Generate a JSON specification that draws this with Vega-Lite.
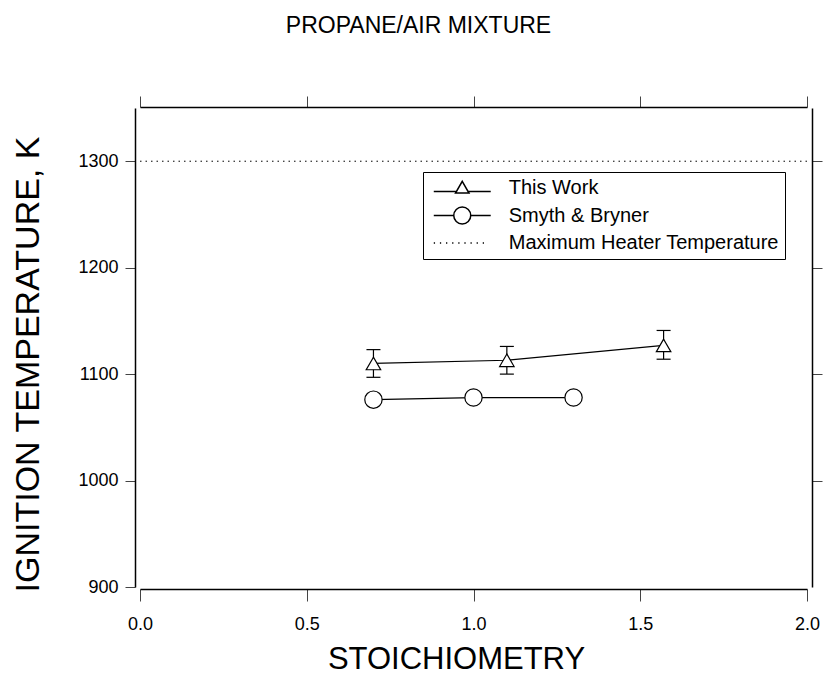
{
  "$schema": "https://vega.github.io/schema/vega-lite/v6.json",
  "width": 667,
  "height": 479,
  "autosize": "none",
  "padding": {"left": 140, "top": 108, "right": 17, "bottom": 89},
  "config": {
    "font": "Liberation Sans",
    "view": {"stroke": null},
    "axis": {
      "grid": false,
      "domainColor": "#000000",
      "domainWidth": 1.5,
      "tickColor": "#444444",
      "tickWidth": 1,
      "labelColor": "#000000",
      "labelFontSize": 18,
      "labelFont": "Liberation Sans",
      "titleFont": "Liberation Sans",
      "titleFontSize": 32,
      "titleFontWeight": "normal",
      "titleColor": "#000000"
    }
  },
  "title": {
    "text": "PROPANE/AIR MIXTURE",
    "fontSize": 23,
    "fontWeight": "normal",
    "font": "Liberation Sans",
    "color": "#000000",
    "anchor": "middle",
    "frame": "group",
    "dx": -55,
    "offset": 58
  },
  "data": {
    "values": [
      {"series": "This Work", "x": 0.7, "temp": 1110, "lo": 1097, "hi": 1123},
      {"series": "This Work", "x": 1.1, "temp": 1113, "lo": 1100, "hi": 1126},
      {"series": "This Work", "x": 1.57, "temp": 1127, "lo": 1114, "hi": 1141},
      {"series": "Smyth & Bryner", "x": 0.7, "temp": 1076},
      {"series": "Smyth & Bryner", "x": 1.0, "temp": 1078},
      {"series": "Smyth & Bryner", "x": 1.3, "temp": 1078},
      {"series": "Maximum Heater Temperature", "temp": 1300}
    ]
  },
  "resolve": {"axis": {"x": "independent", "y": "independent"}},
  "layer": [
    {
      "transform": [{"filter": "datum.series === 'Maximum Heater Temperature'"}],
      "mark": {"type": "rule", "color": "#000000", "strokeWidth": 1, "strokeDash": [1.5, 4]},
      "encoding": {
        "y": {"field": "temp", "type": "quantitative", "scale": {"domain": [900, 1350], "nice": false, "zero": false}, "axis": null}
      }
    },
    {
      "transform": [{"filter": "datum.series !== 'Maximum Heater Temperature'"}],
      "mark": {"type": "line", "color": "#000000", "strokeWidth": 1.2},
      "encoding": {
        "x": {"field": "x", "type": "quantitative", "scale": {"domain": [0, 2], "nice": false, "zero": false},
          "axis": {"orient": "bottom", "values": [0, 0.5, 1, 1.5, 2], "format": ".1f", "tickSize": 12, "offset": 2, "labelPadding": 14, "labelFlush": false, "title": "STOICHIOMETRY", "titleFontSize": 31, "titlePadding": 11, "titleX": 316}},
        "y": {"field": "temp", "type": "quantitative", "scale": {"domain": [900, 1350], "nice": false, "zero": false},
          "axis": {"orient": "left", "values": [900, 1000, 1100, 1200, 1300], "format": "d", "tickSize": 10, "offset": 5, "labelPadding": 7, "labelFlush": false, "title": "IGNITION TEMPERATURE, K", "titleFontSize": 34, "titlePadding": 32, "titleY": 256}},
        "detail": {"field": "series"}
      }
    },
    {
      "transform": [{"filter": "datum.series === 'This Work'"}],
      "mark": {"type": "rule", "color": "#000000", "strokeWidth": 1.2},
      "encoding": {
        "x": {"field": "x", "type": "quantitative", "axis": null},
        "y": {"field": "lo", "type": "quantitative", "axis": null},
        "y2": {"field": "hi"}
      }
    },
    {
      "transform": [{"filter": "datum.series === 'This Work'"}],
      "mark": {"type": "tick", "orient": "horizontal", "color": "#000000", "size": 14, "thickness": 1.2, "opacity": 1},
      "encoding": {
        "x": {"field": "x", "type": "quantitative", "axis": null},
        "y": {"field": "lo", "type": "quantitative", "axis": null}
      }
    },
    {
      "transform": [{"filter": "datum.series === 'This Work'"}],
      "mark": {"type": "tick", "orient": "horizontal", "color": "#000000", "size": 14, "thickness": 1.2, "opacity": 1},
      "encoding": {
        "x": {"field": "x", "type": "quantitative", "axis": null},
        "y": {"field": "hi", "type": "quantitative", "axis": null}
      }
    },
    {
      "transform": [{"filter": "datum.series === 'This Work'"}],
      "mark": {"type": "point", "shape": "triangle-up", "size": 210, "filled": true, "fill": "#ffffff", "stroke": "#000000", "strokeWidth": 1.2, "opacity": 1},
      "encoding": {
        "x": {"field": "x", "type": "quantitative", "axis": null},
        "y": {"field": "temp", "type": "quantitative", "axis": null}
      }
    },
    {
      "transform": [{"filter": "datum.series === 'Smyth & Bryner'"}],
      "mark": {"type": "point", "shape": "circle", "size": 300, "filled": true, "fill": "#ffffff", "stroke": "#000000", "strokeWidth": 1.2, "opacity": 1},
      "encoding": {
        "x": {"field": "x", "type": "quantitative",
          "axis": {"orient": "top", "values": [0, 0.5, 1, 1.5, 2], "tickSize": 11, "offset": 1, "labels": false, "title": null}},
        "y": {"field": "temp", "type": "quantitative",
          "axis": {"orient": "right", "values": [1000, 1100, 1200, 1300], "tickSize": 10, "offset": 5, "labels": false, "title": null}}
      }
    },
    {
      "mark": {"type": "point", "opacity": 0, "size": 289, "filled": false, "color": "#000000"},
      "encoding": {
        "x": {"field": "x", "type": "quantitative", "axis": null},
        "y": {"field": "temp", "type": "quantitative", "axis": null},
        "shape": {
          "field": "series",
          "type": "nominal",
          "scale": {
            "domain": ["This Work", "Smyth & Bryner", "Maximum Heater Temperature"],
            "range": [
              "M-3.35,0.4H-0.68M0.68,0.4H3.35M0,-0.78L0.79,0.59L-0.79,0.59Z",
              "M-3.35,0H-1M1,0H3.35M-1,0A1,1 0 1,0 1,0A1,1 0 1,0 -1,0Z",
              "M-3.35,0h0.15M-2.63,0h0.15M-1.91,0h0.15M-1.19,0h0.15M-0.47,0h0.15M0.25,0h0.15M0.97,0h0.15M1.69,0h0.15M2.41,0h0.15"
            ]
          },
          "legend": {
            "orient": "none",
            "legendX": 283,
            "legendY": 64,
            "title": null,
            "padding": 6,
            "rowPadding": 5.5,
            "symbolSize": 289,
            "symbolStrokeWidth": 1.5,
            "symbolOffset": 23.25,
            "labelOffset": 36.5,
            "labelFontSize": 20,
            "labelFont": "Liberation Sans",
            "labelColor": "#000000",
            "labelLimit": 400,
            "strokeColor": "#000000",
            "encode": {
              "symbols": {"update": {"opacity": {"value": 1}, "fill": {"value": "#ffffff"}, "stroke": {"value": "#000000"}, "strokeWidth": {"value": 1.8}}}
            }
          }
        }
      }
    }
  ]
}
